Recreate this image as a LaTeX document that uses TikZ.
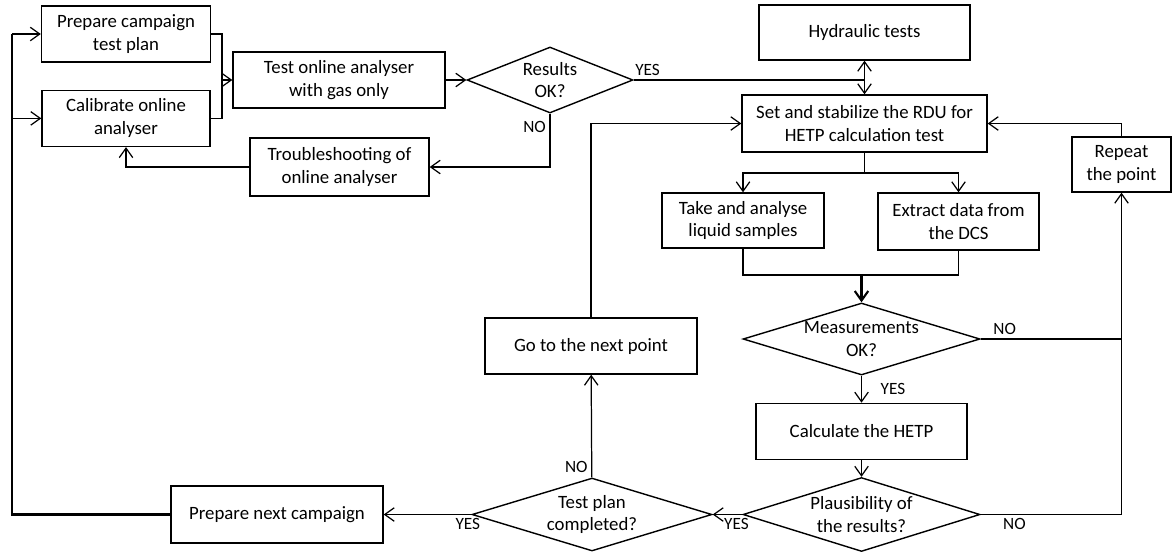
\documentclass[tikz,border=0pt]{standalone}
\usepackage{fontspec}
\setmainfont{Carlito}
\usetikzlibrary{arrows.meta,positioning,shapes.geometric,calc}

\begin{document}
\begin{tikzpicture}[
    x=0.02cm, y=-0.02cm,
    >={Straight Barb[length=1.9mm,width=2.7mm]},
    box/.style={draw, line width=0.8pt, minimum height=1.12cm, align=center,
                inner sep=2pt, font=\fontsize{10.7}{13}\selectfont},
    decision/.style={diamond, draw, line width=0.8pt, inner sep=0pt},
    dtext/.style={align=center, inner sep=0pt, font=\fontsize{10.7}{13}\selectfont},
    lbl/.style={font=\fontsize{9.8}{11}\selectfont, inner sep=2pt},
    line/.style={line width=0.7pt},
    arr/.style={->, line width=0.7pt},
    arrbold/.style={->, line width=1.2pt},
    loopline/.style={line width=1.3pt}]

    \useasboundingbox (0,0) rectangle (1172,555);

    % campaign preparation
    \node[box, minimum width=3.38cm] (prep) at (126,34) {Prepare campaign\\test plan};
    \node[box, minimum width=3.36cm, below=0.54cm of prep] (calib) {Calibrate online\\analyser};
    \node[box, minimum width=4.24cm] (testgas) at (339,80) {Test online analyser\\with gas only};
    \node[decision, minimum width=3.32cm, minimum height=1.32cm,
          label={[dtext]center:Results\\OK?}] (results) at (550,80) {};
    \node[box, minimum width=3.58cm, minimum height=1.16cm] (trouble) at (339.5,167) {Troubleshooting of\\online analyser};
    \coordinate (jn) at (222,80);
    \coordinate (lt) at (12,34);
    \draw[line] (prep.east) -| (jn) |- (calib.east);
    \draw[arr] (jn) -- (testgas.west);
    \draw[arr] (testgas) -- (results);
    \draw[arr] (results.south) |- node[lbl, pos=0.12, left] {NO} (trouble.east);
    \draw[arr] (trouble.west) -| (calib.south);
    \draw[arr] (lt) -- (prep.west);
    \draw[arr] (calib.west -| lt) -- (calib.west);

    % test point
    \node[box, minimum width=4.22cm, minimum height=1.1cm] (hydr) at (864.5,32.5) {Hydraulic tests};
    \node[box, minimum width=4.9cm, minimum height=1.14cm] (setrdu) at (864.5,123.5) {Set and stabilize the RDU for\\HETP calculation test};
    \node[box, minimum width=1.98cm, minimum height=1.1cm] (repeat) at (1121.5,164.5) {Repeat\\the point};
    \node[box, minimum width=3.24cm, minimum height=1.1cm] (take) at (743,220.5) {Take and analyse\\liquid samples};
    \node[box, minimum width=3.22cm, minimum height=1.14cm] (extract) at (958.5,221.5) {Extract data from\\the DCS};
    \draw[<->, line width=0.7pt] (hydr) -- (setrdu);
    \draw[line] (results.east) -- node[lbl, pos=0.06, above] {YES} (results.east -| setrdu.north);
    \coordinate (sp) at (864.5,173);
    \coordinate (jm) at (861.5,275);
    \draw[line] (setrdu.south) -- (sp);
    \draw[arr] (sp) -| (take.north);
    \draw[arr] (sp) -| (extract.north);
    \draw[line] (take.south) |- (jm) -| (extract.south);
    \draw[arr] (repeat.north) |- (setrdu.east);

    % evaluation
    \node[decision, minimum width=4.74cm, minimum height=1.44cm,
          label={[dtext]center:Measurements\\OK?}] (meas) at (861.5,339) {};
    \node[box, minimum width=4.22cm, below=0.54cm of meas] (calc) {Calculate the HETP};
    \node[decision, minimum width=4.74cm, minimum height=1.48cm,
          label={[dtext]center:Plausibility of\\the results?}] (plaus) at (861.5,514.5) {};
    \node[decision, minimum width=4.8cm, minimum height=1.46cm,
          label={[dtext]center:Test plan\\completed?}] (testplan) at (592,514.5) {};
    \node[box, minimum width=4.24cm] (goto) at (591,346) {Go to the next point};
    \node[box, minimum width=4.24cm, minimum height=1.14cm] (nextcamp) at (277,514.5) {Prepare next campaign};
    \draw[arrbold] (jm) -- (meas.north);
    \draw[arr] (meas) -- node[lbl, right=0.3cm] {YES} (calc);
    \draw[arr] (calc) -- (plaus);
    \draw[line] (meas.east) -- node[lbl, pos=0.17, above] {NO} (meas.east -| repeat.south);
    \draw[arr] (plaus.east) -| node[lbl, pos=0.12, below] {NO} (repeat.south);
    \draw[arr] (plaus) -- node[lbl, pos=0.2, below] {YES} (testplan);
    \draw[arr] (testplan) -- node[lbl, pos=0.1, left] {NO} (goto);
    \draw[arr] (goto.north) |- (setrdu.west);
    \draw[arr] (testplan) -- node[lbl, pos=0.04, below] {YES} (nextcamp);
    \draw[loopline] (nextcamp.west) -| (lt);
  \end{tikzpicture}
\end{document}
